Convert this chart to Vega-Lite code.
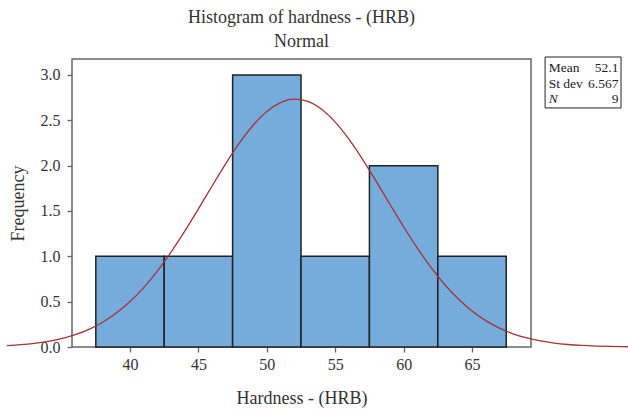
{
  "$schema": "https://vega.github.io/schema/vega-lite/v6.json",
  "width": 459,
  "height": 288,
  "autosize": {"type": "none"},
  "padding": {"left": 72, "top": 59, "right": 97, "bottom": 66},
  "background": "white",
  "title": {
    "text": ["Histogram of hardness - (HRB)", "Normal"],
    "font": "Liberation Serif",
    "fontSize": 18,
    "fontWeight": "normal",
    "color": "#333333",
    "lineHeight": 24,
    "offset": 6,
    "anchor": "middle"
  },
  "config": {
    "view": {"stroke": "#666666", "strokeWidth": 1.5},
    "axis": {
      "labelFont": "Liberation Serif",
      "labelFontSize": 16,
      "labelColor": "#333333",
      "titleFont": "Liberation Serif",
      "titleFontSize": 18,
      "titleFontWeight": "normal",
      "titleColor": "#333333",
      "tickColor": "#666666",
      "tickSize": 5,
      "tickWidth": 1.3,
      "domain": false,
      "grid": false
    }
  },
  "datasets": {
    "bins": [
      {"lower": 37.5, "upper": 42.5, "count": 1},
      {"lower": 42.5, "upper": 47.5, "count": 1},
      {"lower": 47.5, "upper": 52.5, "count": 3},
      {"lower": 52.5, "upper": 57.5, "count": 1},
      {"lower": 57.5, "upper": 62.5, "count": 2},
      {"lower": 62.5, "upper": 67.5, "count": 1}
    ],
    "fit": [
      {"hardness": 31, "frequency": 0.0157},
      {"hardness": 32, "frequency": 0.0253},
      {"hardness": 33, "frequency": 0.0398},
      {"hardness": 34, "frequency": 0.0613},
      {"hardness": 35, "frequency": 0.0922},
      {"hardness": 36, "frequency": 0.1354},
      {"hardness": 37, "frequency": 0.1944},
      {"hardness": 38, "frequency": 0.2727},
      {"hardness": 39, "frequency": 0.3739},
      {"hardness": 40, "frequency": 0.5007},
      {"hardness": 41, "frequency": 0.6552},
      {"hardness": 42, "frequency": 0.8378},
      {"hardness": 43, "frequency": 1.0466},
      {"hardness": 44, "frequency": 1.2776},
      {"hardness": 45, "frequency": 1.5239},
      {"hardness": 46, "frequency": 1.7759},
      {"hardness": 47, "frequency": 2.0221},
      {"hardness": 48, "frequency": 2.2497},
      {"hardness": 49, "frequency": 2.4456},
      {"hardness": 50, "frequency": 2.5975},
      {"hardness": 51, "frequency": 2.6957},
      {"hardness": 52, "frequency": 2.7335},
      {"hardness": 53, "frequency": 2.7082},
      {"hardness": 54, "frequency": 2.6217},
      {"hardness": 55, "frequency": 2.4798},
      {"hardness": 56, "frequency": 2.2918},
      {"hardness": 57, "frequency": 2.0695},
      {"hardness": 58, "frequency": 1.8260},
      {"hardness": 59, "frequency": 1.5741},
      {"hardness": 60, "frequency": 1.3259},
      {"hardness": 61, "frequency": 1.0912},
      {"hardness": 62, "frequency": 0.8776},
      {"hardness": 63, "frequency": 0.6895},
      {"hardness": 64, "frequency": 0.5294},
      {"hardness": 65, "frequency": 0.3971},
      {"hardness": 66, "frequency": 0.2911},
      {"hardness": 67, "frequency": 0.2084},
      {"hardness": 68, "frequency": 0.1458},
      {"hardness": 69, "frequency": 0.0997},
      {"hardness": 70, "frequency": 0.0666},
      {"hardness": 71, "frequency": 0.0435},
      {"hardness": 72, "frequency": 0.0277},
      {"hardness": 73, "frequency": 0.0173},
      {"hardness": 74, "frequency": 0.0105},
      {"hardness": 75, "frequency": 0.0063},
      {"hardness": 76, "frequency": 0.0036},
      {"hardness": 76.4, "frequency": 0.0029}
    ],
    "stats": [
      {"stat": "Mean", "value": "52.1"},
      {"stat": "St dev", "value": "6.567"},
      {"stat": "N", "value": "9"}
    ]
  },
  "layer": [
    {
      "layer": [
        {
          "data": {"name": "bins"},
          "mark": {"type": "rect", "fill": "#75acdb", "stroke": "#222222", "strokeWidth": 1.5},
          "encoding": {
            "x": {
              "field": "lower",
              "type": "quantitative",
              "scale": {"domain": [35.76, 69.31], "nice": false, "zero": false},
              "axis": {
                "title": "Hardness - (HRB)",
                "values": [40, 45, 50, 55, 60, 65],
                "labelPadding": 4,
                "titlePadding": 17
              }
            },
            "x2": {"field": "upper"},
            "y": {
              "field": "count",
              "type": "quantitative",
              "scale": {"domain": [0, 3.176], "nice": false},
              "axis": {
                "title": "Frequency",
                "values": [0, 0.5, 1, 1.5, 2, 2.5, 3],
                "format": ".1f",
                "labelPadding": 7,
                "titlePadding": 13
              }
            },
            "y2": {"datum": 0}
          }
        },
        {
          "data": {"name": "fit"},
          "mark": {"type": "line", "color": "#a83232", "strokeWidth": 1.3, "clip": false, "interpolate": "monotone"},
          "encoding": {
            "x": {"field": "hardness", "type": "quantitative"},
            "y": {"field": "frequency", "type": "quantitative"}
          }
        },
        {
          "data": {"values": [{}]},
          "mark": {"type": "rect", "fill": "white", "stroke": "#222222", "strokeWidth": 1, "clip": false},
          "encoding": {
            "x": {"datum": 70.34},
            "x2": {"datum": 75.89},
            "y": {"datum": 3.198},
            "y2": {"datum": 2.636}
          }
        }
      ]
    },
    {
      "data": {"name": "stats"},
      "encoding": {
        "y": {
          "field": "stat",
          "type": "nominal",
          "scale": {"type": "point", "domain": ["Mean", "St dev", "N"], "range": [9, 40], "padding": 0},
          "axis": null
        }
      },
      "layer": [
        {
          "transform": [{"filter": "datum.stat !== 'N'"}],
          "mark": {"type": "text", "align": "left", "baseline": "middle", "font": "Liberation Serif", "fontSize": 13.5, "color": "#222222"},
          "encoding": {"x": {"datum": 70.6}, "text": {"field": "stat"}}
        },
        {
          "transform": [{"filter": "datum.stat === 'N'"}],
          "mark": {"type": "text", "align": "left", "baseline": "middle", "font": "Liberation Serif", "fontSize": 13.5, "fontStyle": "italic", "color": "#222222"},
          "encoding": {"x": {"datum": 70.6}, "text": {"field": "stat"}}
        },
        {
          "mark": {"type": "text", "align": "right", "baseline": "middle", "font": "Liberation Serif", "fontSize": 13.5, "color": "#222222"},
          "encoding": {"x": {"datum": 75.7}, "text": {"field": "value"}}
        }
      ]
    }
  ],
  "resolve": {"scale": {"y": "independent"}, "axis": {"y": "independent"}}
}
